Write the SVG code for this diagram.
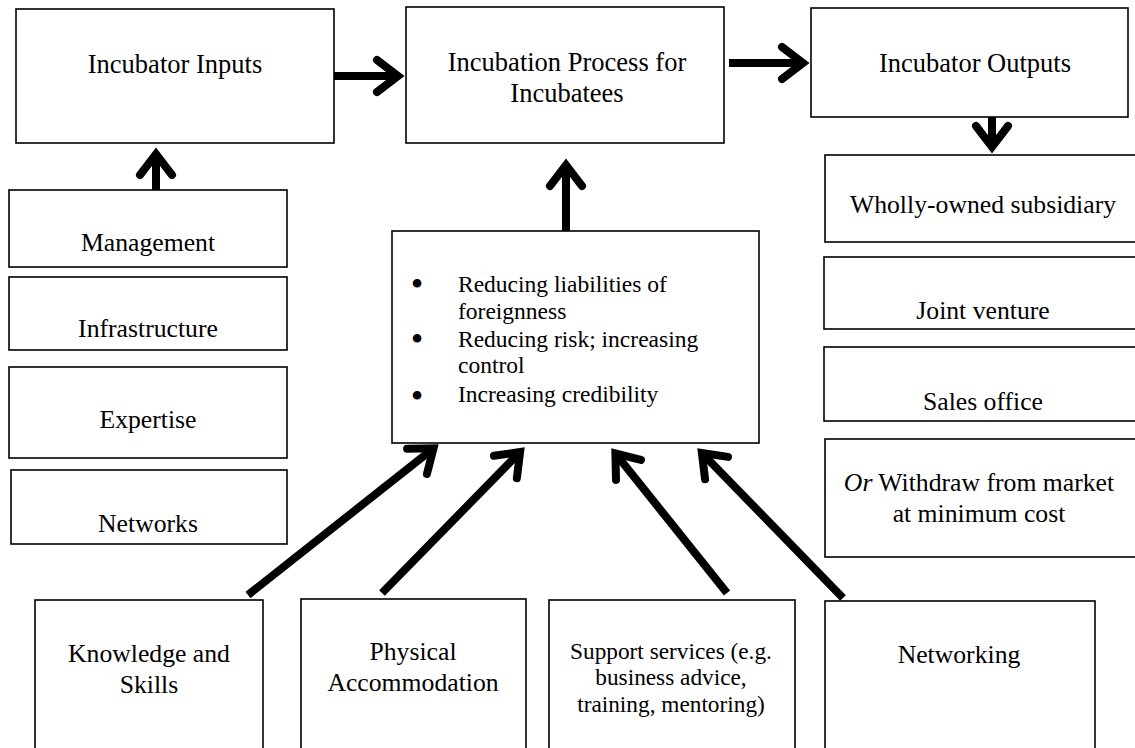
<svg xmlns="http://www.w3.org/2000/svg" width="1135" height="748" viewBox="0 0 1135 748">
  <style>
    .box { fill: #fff; stroke: #000; stroke-width: 1.6; }
    .t { font-family: "Liberation Serif", "Times New Roman", serif; fill: #000; text-anchor: middle; }
    .h { font-size: 26.5px; }
    .n { font-size: 25.7px; }
    .s { font-size: 23.3px; }
    .b { font-size: 23.5px; }
    .dot { font-size: 36px; }
    .l { text-anchor: start; }
    .arrow { fill: none; stroke: #000; stroke-width: 8; stroke-linecap: butt; marker-end: url(#chev); }
  </style>
  <defs>
    <!-- open chevron head; its vertex sits at the end of each shaft -->
    <marker id="chev" markerUnits="userSpaceOnUse" orient="auto" markerWidth="60" markerHeight="60" viewBox="-40 -30 60 60" refX="0" refY="0" overflow="visible">
      <path d="M -21,-16 L 0,0 L -21,16" fill="none" stroke="#000" stroke-width="8" stroke-linecap="round" stroke-linejoin="miter"/>
    </marker>
  </defs>

  <rect width="1135" height="748" fill="#fff"/>

  <!-- top row -->
  <g id="inputs">
    <rect class="box" x="16" y="9" width="318" height="134"/>
    <text class="t h" x="175" y="73">Incubator Inputs</text>
  </g>
  <g id="process">
    <rect class="box" x="406" y="7" width="318" height="136"/>
    <text class="t h" x="567" y="71">Incubation Process for</text>
    <text class="t h" x="567" y="102">Incubatees</text>
  </g>
  <g id="outputs">
    <rect class="box" x="811" y="8" width="317" height="109"/>
    <text class="t h" x="975" y="72">Incubator Outputs</text>
  </g>

  <!-- input resources -->
  <g id="management">
    <rect class="box" x="9" y="190" width="278" height="77"/>
    <text class="t n" x="148" y="251">Management</text>
  </g>
  <g id="infrastructure">
    <rect class="box" x="9" y="277" width="278" height="73"/>
    <text class="t n" x="148" y="337">Infrastructure</text>
  </g>
  <g id="expertise">
    <rect class="box" x="9" y="367" width="278" height="91"/>
    <text class="t n" x="148" y="428">Expertise</text>
  </g>
  <g id="networks">
    <rect class="box" x="11" y="470" width="276" height="74"/>
    <text class="t n" x="148" y="532">Networks</text>
  </g>

  <!-- effects of incubation -->
  <g id="effects">
    <rect class="box" x="392" y="231" width="367" height="212"/>
    <text class="t dot" x="417" y="296">•</text>
    <text class="t b l" x="458" y="292">Reducing liabilities of</text>
    <text class="t b l" x="458" y="319">foreignness</text>
    <text class="t dot" x="417" y="351">•</text>
    <text class="t b l" x="458" y="347">Reducing risk; increasing</text>
    <text class="t b l" x="458" y="373">control</text>
    <text class="t dot" x="417" y="408">•</text>
    <text class="t b l" x="458" y="402">Increasing credibility</text>
  </g>

  <!-- outcomes -->
  <g id="wholly-owned">
    <rect class="box" x="825" y="155" width="320" height="87"/>
    <text class="t n" x="983" y="213">Wholly-owned subsidiary</text>
  </g>
  <g id="joint-venture">
    <rect class="box" x="824" y="257" width="320" height="72"/>
    <text class="t n" x="983" y="319">Joint venture</text>
  </g>
  <g id="sales-office">
    <rect class="box" x="824" y="347" width="320" height="74"/>
    <text class="t n" x="983" y="410">Sales office</text>
  </g>
  <g id="withdraw">
    <rect class="box" x="825" y="439" width="320" height="118"/>
    <text class="t n" x="979" y="491"><tspan font-style="italic">Or</tspan> Withdraw from market</text>
    <text class="t n" x="979" y="522">at minimum cost</text>
  </g>

  <!-- incubator services -->
  <g id="knowledge">
    <rect class="box" x="35" y="600" width="228" height="200"/>
    <text class="t n" x="149" y="662">Knowledge and</text>
    <text class="t n" x="149" y="693">Skills</text>
  </g>
  <g id="accommodation">
    <rect class="box" x="301" y="599" width="225" height="200"/>
    <text class="t n" x="413" y="660">Physical</text>
    <text class="t n" x="413" y="691">Accommodation</text>
  </g>
  <g id="support">
    <rect class="box" x="549" y="600" width="246" height="200"/>
    <text class="t s" x="671" y="659">Support services (e.g.</text>
    <text class="t s" x="671" y="685">business advice,</text>
    <text class="t s" x="671" y="712">training, mentoring)</text>
  </g>
  <g id="networking">
    <rect class="box" x="825" y="601" width="270" height="200"/>
    <text class="t n" x="959" y="663">Networking</text>
  </g>

  <!-- connectors -->
  <g id="connectors">
    <path class="arrow" d="M 334,76 L 398,76"/>
    <path class="arrow" d="M 729,63 L 803,63"/>
    <path class="arrow" d="M 992,117 L 992,147"/>
    <path class="arrow" d="M 156,190 L 156,154"/>
    <path class="arrow" d="M 566,231 L 566,165"/>
    <path class="arrow" d="M 248,595 L 433.5,448.3"/>
    <path class="arrow" d="M 382,593 L 520.1,452"/>
    <path class="arrow" d="M 727,593 L 615.4,453.5"/>
    <path class="arrow" d="M 843,598 L 701.9,453"/>
  </g>
</svg>
